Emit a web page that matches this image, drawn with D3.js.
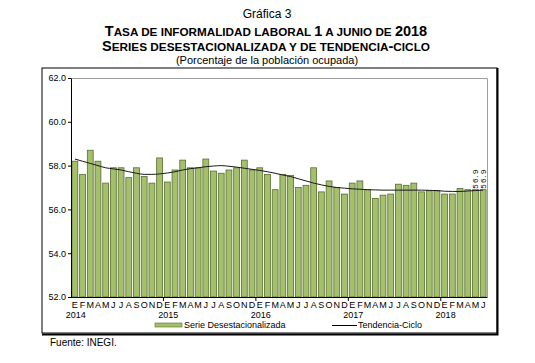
<!DOCTYPE html>
<html>
<head>
<meta charset="utf-8">
<script src="https://cdn.jsdelivr.net/npm/d3@7"></script>
<style>
  body { margin: 0; background: #fff; }
  svg { font-family: Arial, "Liberation Sans", sans-serif; }
</style>
</head>
<body>
<div id="viz-container"></div>
<script>
const years = ["2014", "2015", "2016", "2017", "2018"];
const monthLetters = ["E", "F", "M", "A", "M", "J", "J", "A", "S", "O", "N", "D"];
const yTicks = [52, 54, 56, 58, 60, 62];

// Serie desestacionalizada, ene 2014 - jun 2018
const serie = [
  58.2, 57.6, 58.7, 58.2, 57.2, 57.9, 57.9, 57.45, 57.9, 57.5, 57.2, 58.35,
  57.25, 57.8, 58.25, 57.9, 57.9, 58.3, 57.75, 57.65, 57.8, 57.9, 58.25, 57.8,
  57.9, 57.6, 56.9, 57.6, 57.55, 57.0, 57.1, 57.9, 56.8, 57.3, 57.0, 56.7,
  57.2, 57.3, 56.9, 56.5, 56.65, 56.7, 57.15, 57.1, 57.2, 56.8, 56.85, 56.85,
  56.7, 56.7, 56.95, 56.9, 56.9, 56.9
];

// Tendencia-ciclo
const tendencia = [
  58.3, 58.2, 58.1, 58.0, 57.9, 57.85, 57.8, 57.72, 57.65, 57.6, 57.6, 57.62,
  57.66, 57.72, 57.8, 57.86, 57.9, 57.95, 57.98, 58.0, 57.97, 57.93, 57.88, 57.83,
  57.78, 57.72, 57.65, 57.57, 57.5, 57.4, 57.3, 57.2, 57.12, 57.05, 57.0, 56.97,
  56.94, 56.92, 56.9, 56.89, 56.88, 56.88, 56.88, 56.88, 56.88, 56.88, 56.87, 56.86,
  56.83, 56.82, 56.82, 56.84, 56.86, 56.88
];

const lastLabels = ["56.9", "56.9"];

const width = 535, height = 363;
const plot = { left: 71, right: 487, top: 78, bottom: 297 };

const months = serie.map((d, i) => i);

const svg = d3.select("#viz-container").append("svg")
  .attr("width", width).attr("height", height);

// titles
const title = svg.append("g").attr("text-anchor", "middle").attr("fill", "#000");
title.append("text").attr("x", 267).attr("y", 18).attr("font-size", 12).text("Gráfica 3");

function smallCaps(y, parts) {
  const t = title.append("text").attr("x", 266).attr("y", y).attr("font-weight", "bold");
  parts.forEach(p => t.append("tspan").attr("font-size", p[1]).text(p[0]));
}
smallCaps(36, [["T", 14.5], ["ASA DE INFORMALIDAD LABORAL ", 11.7], ["1", 14.5],
  [" A JUNIO DE ", 11.7], ["2018", 14.5]]);
smallCaps(51, [["S", 14.5], ["ERIES DESESTACIONALIZADA Y DE TENDENCIA", 11.8], ["-", 14.5], ["CICLO", 11.8]]);
title.append("text").attr("x", 267).attr("y", 64).attr("font-size", 11)
  .text("(Porcentaje de la población ocupada)");

// outer frame
svg.append("rect").attr("x", 42).attr("y", 68).attr("width", 455).attr("height", 265)
  .attr("fill", "none").attr("stroke", "#000").attr("stroke-width", 1);
svg.append("path").attr("d", "M497.5,68V334.5H42")
  .attr("fill", "none").attr("stroke", "#000").attr("stroke-width", 2);

const x = d3.scaleBand().domain(months).range([plot.left, plot.right]).paddingInner(0.24).paddingOuter(0.12);
const y = d3.scaleLinear().domain([52, 62]).range([plot.bottom, plot.top]);

// plot border (gray top & right)
svg.append("path")
  .attr("d", `M${plot.left},${plot.top + 0.5}H${plot.right + 0.5}V${plot.bottom}`)
  .attr("fill", "none").attr("stroke", "#a0a0a0").attr("stroke-width", 1);

// bars
svg.append("g").selectAll("rect").data(serie).join("rect")
  .attr("x", (d, i) => x(i))
  .attr("y", d => y(d))
  .attr("width", x.bandwidth())
  .attr("height", d => y(52) - y(d))
  .attr("fill", "#a5c06c")
  .attr("stroke", "#566d2c")
  .attr("stroke-width", 0.8);

// trend line
const line = d3.line()
  .x((d, i) => x(i) + x.bandwidth() / 2)
  .y(d => y(d))
  .curve(d3.curveMonotoneX);
svg.append("path").datum(tendencia).attr("d", line)
  .attr("fill", "none").attr("stroke", "#1a1a1a").attr("stroke-width", 1);

// y axis
const yAxis = svg.append("g").attr("transform", `translate(${plot.left},0)`)
  .call(d3.axisLeft(y).tickValues(yTicks).tickFormat(d3.format(".1f")).tickSize(3).tickSizeOuter(0));
yAxis.select(".domain").attr("stroke", "#000");
yAxis.selectAll("text").attr("font-size", 9).attr("font-family", "Arial, sans-serif").attr("fill", "#000").attr("x", -5);

// x axis line with year ticks
const xAxis = svg.append("g");
xAxis.append("line").attr("x1", plot.left).attr("x2", plot.right + 0.5)
  .attr("y1", plot.bottom + 0.5).attr("y2", plot.bottom + 0.5).attr("stroke", "#000");
const yearStarts = years.map((yr, k) => k * 12).filter(i => i > 0);
xAxis.selectAll(".ytick").data(yearStarts).join("line")
  .attr("x1", i => x(i) - (x.step() - x.bandwidth()) / 2)
  .attr("x2", i => x(i) - (x.step() - x.bandwidth()) / 2)
  .attr("y1", plot.bottom).attr("y2", plot.bottom + 4).attr("stroke", "#000");

xAxis.selectAll(".mlabel").data(months).join("text")
  .attr("x", i => x(i) + x.bandwidth() / 2)
  .attr("y", plot.bottom + 10.5)
  .attr("text-anchor", "middle").attr("font-size", 9).attr("fill", "#000")
  .text(i => monthLetters[i % 12]);

xAxis.selectAll(".ylabel").data(years).join("text")
  .attr("x", (d, k) => x(k * 12) + x.bandwidth() / 2 + 1)
  .attr("y", plot.bottom + 21)
  .attr("text-anchor", "middle").attr("font-size", 9).attr("fill", "#000")
  .text(d => d);

// value labels at the last period
const lastX = [x(52) + x.bandwidth() / 2, x(53) + x.bandwidth() / 2];
svg.append("g").selectAll("text").data(lastLabels).join("text")
  .attr("transform", (d, k) => `translate(${lastX[k] + 2.5},${y(56.9) - 1}) rotate(-90)`)
  .attr("font-size", 8).attr("letter-spacing", 1.2).attr("fill", "#000")
  .text(d => d);

// legend
const leg = svg.append("g").attr("font-size", 9).attr("fill", "#000");
leg.append("rect").attr("x", 155).attr("y", 323).attr("width", 27).attr("height", 4)
  .attr("fill", "#a5c06c").attr("stroke", "#566d2c").attr("stroke-width", 0.6);
leg.append("text").attr("x", 184).attr("y", 328).text("Serie Desestacionalizada");
leg.append("line").attr("x1", 332).attr("x2", 357).attr("y1", 325.5).attr("y2", 325.5)
  .attr("stroke", "#000").attr("stroke-width", 1);
leg.append("text").attr("x", 358).attr("y", 328).text("Tendencia-Ciclo");

svg.append("text").attr("x", 50).attr("y", 346).attr("font-size", 10).attr("fill", "#000")
  .text("Fuente: INEGI.");
</script>
</body>
</html>
